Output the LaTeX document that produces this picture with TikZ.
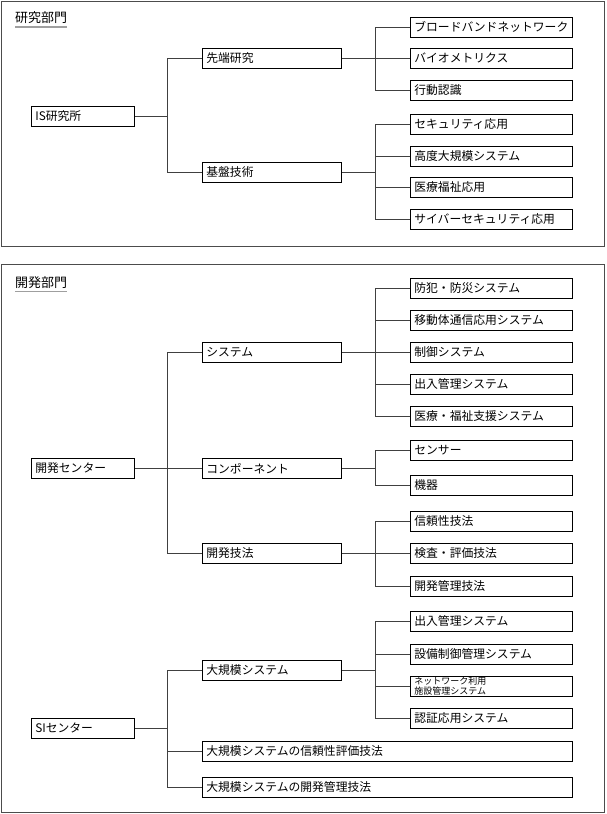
\documentclass[tikz,border=0pt]{standalone}
\usepackage{fontspec}
\setmainfont{Noto Sans CJK JP}
\usetikzlibrary{shadows}
\tikzset{
  box/.style={draw=black, line width=0.7pt, fill=white, anchor=north west,
    minimum height=20pt, inner xsep=4pt, inner ysep=0pt, align=left,
    font=\fontsize{11.8}{13}\selectfont,
    drop shadow={shadow xshift=1pt, shadow yshift=-1pt, fill=gray!60, opacity=1}},
  lbox/.style={box, text width=95pt},
  mbox/.style={box, text width=131pt},
  rbox/.style={box, text width=154pt},
  wbox/.style={box, text width=362pt},
  conn/.style={draw=black!75, line width=0.7pt},
  frame/.style={draw=black!70, line width=0.9pt},
  title/.style={anchor=west, inner sep=0pt, font=\fontsize{13}{15}\selectfont},
  uline/.style={draw=gray!75, line width=1.6pt}
}
\begin{document}
\begin{tikzpicture}[x=1pt,y=-1pt]
\useasboundingbox (0,0) rectangle (606,814);
% frames
\draw[frame] (1,1) rectangle (604,246);
\draw[frame] (1,264) rectangle (604,812);
% titles
\node[title] (t1) at (15,18) {研究部門};
\draw[uline] ([yshift=-2.5pt]t1.south west) -- ([yshift=-2.5pt]t1.south east);
\node[title] (t2) at (15,283) {開発部門};
\draw[uline] ([yshift=-2.5pt]t2.south west) -- ([yshift=-2.5pt]t2.south east);
\coordinate (ta) at (167,0);
\coordinate (tb) at (375,0);

% ---------- section 1
\node[lbox] (is) at (31,106) {IS研究所};
\node[mbox] (sentan) at (202,48) {先端研究};
\node[mbox] (kiban) at (202,162) {基盤技術};
\node[rbox] (a1) at (410,17) {ブロードバンドネットワーク};
\node[rbox] (a2) at (410,48) {バイオメトリクス};
\node[rbox] (a3) at (410,80) {行動認識};
\node[rbox] (b1) at (410,114) {セキュリティ応用};
\node[rbox] (b2) at (410,146) {高度大規模システム};
\node[rbox] (b3) at (410,177) {医療福祉応用};
\node[rbox] (b4) at (410,209) {サイバーセキュリティ応用};

\draw[conn] (is.east) -- (is.east -| ta);
\draw[conn] (sentan.west) -- (sentan.west -| ta) -- (kiban.west -| ta) -- (kiban.west);
\draw[conn] (sentan.east) -- (a2.west);
\draw[conn] (a1.west) -- (a1.west -| tb) -- (a3.west -| tb) -- (a3.west);
\draw[conn] (kiban.east) -- (kiban.east -| tb);
\draw[conn] (b1.west) -- (b1.west -| tb) -- (b4.west -| tb) -- (b4.west);
\draw[conn] (b2.west) -- (b2.west -| tb);
\draw[conn] (b3.west) -- (b3.west -| tb);

% ---------- section 2
\node[lbox] (dc) at (31,458) {開発センター};
\node[mbox] (sys) at (202,342) {システム};
\node[mbox] (comp) at (202,458) {コンポーネント};
\node[mbox] (gih) at (202,543) {開発技法};
\node[rbox] (c1) at (410,278) {防犯・防災システム};
\node[rbox] (c2) at (410,310) {移動体通信応用システム};
\node[rbox] (c3) at (410,342) {制御システム};
\node[rbox] (c4) at (410,374) {出入管理システム};
\node[rbox] (c5) at (410,406) {医療・福祉支援システム};
\node[rbox] (d1) at (410,440) {センサー};
\node[rbox] (d2) at (410,475) {機器};
\node[rbox] (e1) at (410,511) {信頼性技法};
\node[rbox] (e2) at (410,543) {検査・評価技法};
\node[rbox] (e3) at (410,576) {開発管理技法};

\draw[conn] (dc.east) -- (comp.west);
\draw[conn] (sys.west) -- (sys.west -| ta) -- (gih.west -| ta) -- (gih.west);
\draw[conn] (sys.east) -- (c3.west);
\draw[conn] (c1.west) -- (c1.west -| tb) -- (c5.west -| tb) -- (c5.west);
\draw[conn] (c2.west) -- (c2.west -| tb);
\draw[conn] (c4.west) -- (c4.west -| tb);
\draw[conn] (comp.east) -- (comp.east -| tb);
\draw[conn] (d1.west) -- (d1.west -| tb) -- (d2.west -| tb) -- (d2.west);
\draw[conn] (gih.east) -- (e2.west);
\draw[conn] (e1.west) -- (e1.west -| tb) -- (e3.west -| tb) -- (e3.west);

% ---------- SI
\node[lbox] (si) at (31,718) {SIセンター};
\node[mbox] (dk) at (202,660) {大規模システム};
\node[rbox] (f1) at (410,611) {出入管理システム};
\node[rbox] (f2) at (410,644) {設備制御管理システム};
\node[rbox, font=\fontsize{9}{9.5}\selectfont] (f3) at (410,676) {ネットワーク利用\\施設管理システム};
\node[rbox] (f4) at (410,708) {認証応用システム};
\node[wbox] (g1) at (202,741) {大規模システムの信頼性評価技法};
\node[wbox] (g2) at (202,777) {大規模システムの開発管理技法};

\draw[conn] (si.east) -- (si.east -| ta);
\draw[conn] (dk.west) -- (dk.west -| ta) -- (g2.west -| ta) -- (g2.west);
\draw[conn] (g1.west) -- (g1.west -| ta);
\draw[conn] (dk.east) -- (dk.east -| tb);
\draw[conn] (f1.west) -- (f1.west -| tb) -- (f4.west -| tb) -- (f4.west);
\draw[conn] (f2.west) -- (f2.west -| tb);
\draw[conn] (f3.west) -- (f3.west -| tb);
\end{tikzpicture}
\end{document}
